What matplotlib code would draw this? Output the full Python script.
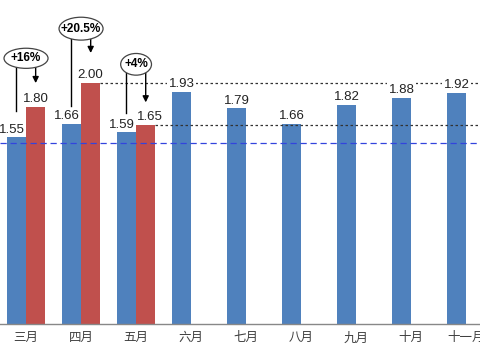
import matplotlib
matplotlib.use("Agg")
import matplotlib.pyplot as plt
import numpy as np
from matplotlib.patches import Ellipse

plt.rcParams["font.family"] = ["Liberation Sans", "Noto Sans CJK SC", "DejaVu Sans"]

months = ["三月", "四月", "五月", "六月", "七月", "八月", "九月", "十月", "十一月"]
blue_vals = [1.55, 1.66, 1.59, 1.93, 1.79, 1.66, 1.82, 1.88, 1.92]
red_vals = [1.80, 2.00, 1.65]
pct_labels = ["+16%", "+20.5%", "+4%"]
# annotation layout: ellipse centre y, ellipse w/h, line bottom, arrow tip
ell_y = [2.206, 2.452, 2.156]
ell_w = [0.80, 0.80, 0.56]
ell_h = [0.167, 0.19, 0.18]
line_bottom = [1.77, 1.81, 1.75]
arrow_tip = [2.00, 2.25, 1.84]
ref_high = 2.00
ref_mid = 1.65
ref_base = 1.50

BLUE = "#4F81BD"
RED = "#C0504D"
w = 0.35

fig = plt.figure(figsize=(4.8, 3.6), dpi=100)
ax = fig.add_axes([0, 0.1, 1, 0.9])

x = np.arange(len(months))
ax.bar(x - w / 2, blue_vals, width=w, color=BLUE, zorder=2)
xr = np.arange(len(red_vals))
ax.bar(xr + w / 2, red_vals, width=w, color=RED, zorder=2)

xmin, xmax = -0.473, 8.25
ax.set_xlim(xmin, xmax)
ax.set_ylim(0, 2.69)

# reference lines
ax.plot([1 + w, xmax], [ref_high, ref_high], color="#333333", lw=0.9,
        ls=(0, (2, 2)), zorder=3)
ax.plot([2 + w, xmax], [ref_mid, ref_mid], color="#333333", lw=0.9,
        ls=(0, (2, 2)), zorder=3)
ax.plot([xmin, xmax], [ref_base, ref_base], color="#3344DD", lw=0.9,
        ls=(0, (5, 3)), zorder=3)


def value_label(xi, v, dx=0.0):
    # labels that sit on a dotted line get a white background
    crosses = abs(v + 0.08 - ref_high) < 0.08 and xi > 1 + w
    kw = {}
    if crosses:
        kw["bbox"] = dict(boxstyle="square,pad=0.1", fc="white", ec="none")
    ax.text(xi + dx, v + 0.015, f"{v:.2f}", ha="center", va="bottom",
            fontsize=9.5, color="#222222", zorder=4, **kw)


n_pair = len(red_vals)
for i, (xi, v) in enumerate(zip(x - w / 2, blue_vals)):
    value_label(xi, v, dx=-0.09 if i < n_pair else 0.0)
for i, (xi, v) in enumerate(zip(xr + w / 2, red_vals)):
    value_label(xi, v, dx=0.07 if i == 2 else 0.0)

for i, lab in enumerate(pct_labels):
    ax.add_patch(Ellipse((i, ell_y[i]), ell_w[i], ell_h[i], fc="white",
                         ec="#444444", lw=0.9, zorder=5))
    ax.text(i, ell_y[i], lab, ha="center", va="center", fontsize=8.5,
            fontweight="bold", color="black", zorder=6)
    y0 = ell_y[i] - ell_h[i] / 2
    ax.plot([i - w / 2, i - w / 2], [y0 + 0.02, line_bottom[i]], color="black",
            lw=1.0, zorder=4)
    ax.annotate("", xy=(i + w / 2, arrow_tip[i]), xytext=(i + w / 2, y0 + 0.02),
                arrowprops=dict(arrowstyle="-|>", color="black", lw=1.0,
                                mutation_scale=9, shrinkA=0, shrinkB=0),
                zorder=4)

ax.set_xticks(x)
ax.set_xticklabels(months, fontsize=9, color="#404040")
ax.tick_params(axis="x", length=0, pad=6)
ax.set_yticks([])
for s in ["top", "left", "right"]:
    ax.spines[s].set_visible(False)
ax.spines["bottom"].set_color("#888888")
ax.spines["bottom"].set_linewidth(1.0)

fig.savefig("out.png", dpi=100)
